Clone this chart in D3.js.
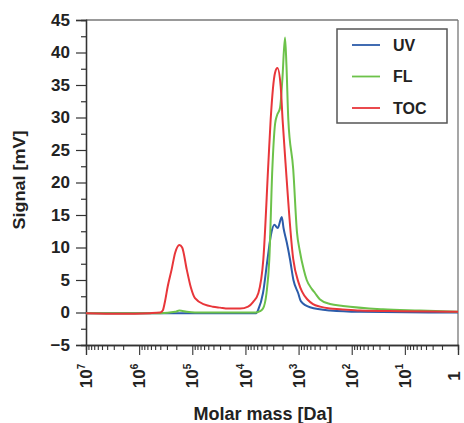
<!DOCTYPE html>
<html>
<head>
<meta charset="utf-8">
<script src="https://cdn.jsdelivr.net/npm/d3@7/dist/d3.min.js"></script>
<style>
  html, body { margin: 0; padding: 0; background: #fff; }
  svg { display: block; }
  text { font-family: "Liberation Sans", Arial, sans-serif; font-weight: bold; fill: #222; }
</style>
</head>
<body>
<svg id="chart" width="464" height="423"></svg>
<script>
// ---- data ----
const seriesNames = ["UV", "FL", "TOC"];
const seriesColors = ["#2c5caa", "#6cc24a", "#e8363a"];

const uvMass   = [1e7, 6.3e3, 5.7e3, 4.67e3, 3.84e3, 3.3e3, 2.86e3, 2.47e3, 2.07e3, 1.92e3, 1.67e3, 1.45e3, 1.25e3, 1.02e3, 900, 610, 256, 70, 1];
const uvSignal = [-0.1, -0.1, 0.5, 3, 8.2, 12, 13.5, 13.0, 14.7, 13, 10.8, 8.2, 5, 3, 1.7, 0.8, 0.3, 0.1, 0];

const flMass   = [1e7, 4e5, 2.1e5, 1.75e5, 1.27e5, 8.9e4, 6.3e3, 5.32e3, 4.67e3, 4.01e3, 3.55e3, 3.12e3, 2.77e3, 2.55e3, 2.23e3, 2.02e3, 1.8e3, 1.69e3, 1.56e3, 1.26e3, 1.07e3, 950, 800, 703, 560, 491, 395, 256, 146, 25.8, 5.2, 1];
const flSignal = [-0.1, -0.1, 0.1, 0.3, 0.1, 0, 0, 0.2, 0.6, 3, 8.2, 22, 29, 30.3, 31.5, 35.8, 42.3, 38, 29.7, 22, 12.3, 9.5, 6.6, 5, 3.6, 3, 2, 1.3, 1.0, 0.5, 0.3, 0.1];

const tocMass   = [1e7, 2.3e6, 6.2e5, 4.0e5, 3.6e5, 3.3e5, 2.9e5, 2.45e5, 2.1e5, 1.75e5, 1.55e5, 1.27e5, 1.06e5, 8.9e4, 5.8e4, 4.1e4, 3.0e4, 2.1e4, 1.26e4, 8.9e3, 7.2e3, 5.7e3, 4.6e3, 3.7e3, 3.35e3, 2.77e3, 2.5e3, 2.17e3, 2.0e3, 1.76e3, 1.26e3, 1.0e3, 860, 680, 535, 395, 256, 166, 70, 12, 1];
const tocSignal = [-0.1, -0.2, -0.1, 0, 0.3, 1.5, 4.0, 6.6, 9.2, 10.4, 10.0, 6.6, 3.8, 2.2, 1.2, 0.9, 0.75, 0.6, 0.6, 0.9, 1.6, 3.0, 8.2, 23, 29.7, 36.9, 37.6, 34.8, 29.7, 23, 8.2, 4.6, 3.2, 2.0, 1.3, 0.9, 0.6, 0.5, 0.3, 0.2, 0.1];

const yTicks = [-5, 0, 5, 10, 15, 20, 25, 30, 35, 40, 45];
const xTickExponents = [7, 6, 5, 4, 3, 2, 1, 0];
const yTitle = "Signal [mV]";
const xTitle = "Molar mass [Da]";

// ---- layout ----
const L = 86, R = 458, T = 20, B = 345;
const svg = d3.select("#chart");

const x = d3.scaleLog().domain([1e7, 1]).range([L, R]);
const y = d3.scaleLinear().domain([-5, 45]).range([B, T]);

// frame (top / right)
svg.append("line").attr("x1", L).attr("x2", R).attr("y1", T).attr("y2", T)
  .attr("stroke", "#777").attr("stroke-width", 1.3);
svg.append("line").attr("x1", R).attr("x2", R).attr("y1", T).attr("y2", B)
  .attr("stroke", "#777").attr("stroke-width", 1.3);

// y axis
const yMinor = d3.range(-2.5, 45, 5);
const gyMinor = svg.append("g").attr("transform", `translate(${L},0)`)
  .call(d3.axisLeft(y).tickValues(yMinor).tickSize(5).tickFormat(""));
const gy = svg.append("g").attr("transform", `translate(${L},0)`)
  .call(d3.axisLeft(y).tickValues(yTicks).tickSize(10).tickPadding(6).tickFormat(d3.format("d")));
[gy, gyMinor].forEach(g => {
  g.select(".domain").attr("stroke", "#333").attr("stroke-width", 1.3);
  g.selectAll(".tick line").attr("stroke", "#333").attr("stroke-width", 1.2);
});
gy.selectAll(".tick text").attr("font-size", 17).attr("font-family", "Liberation Sans, Arial, sans-serif")
  .attr("font-weight", "bold").attr("fill", "#222");

// x axis
const decades = xTickExponents.map(e => Math.pow(10, e));
const xMinor = [];
xTickExponents.slice(0, -1).forEach(e => {
  for (let k = 2; k <= 9; k++) xMinor.push(k * Math.pow(10, e - 1));
});
const gxMinor = svg.append("g").attr("transform", `translate(0,${B})`)
  .call(d3.axisBottom(x).tickValues(xMinor).tickSize(5).tickFormat(""));
const gx = svg.append("g").attr("transform", `translate(0,${B})`)
  .call(d3.axisBottom(x).tickValues(decades).tickSize(10).tickFormat(""));
[gx, gxMinor].forEach(g => {
  g.select(".domain").attr("stroke", "#333").attr("stroke-width", 1.3);
  g.selectAll(".tick line").attr("stroke", "#333").attr("stroke-width", 1.1);
});

// rotated x tick labels
xTickExponents.forEach(e => {
  const px = Math.min(x(Math.pow(10, e)), 454);
  const t = svg.append("text")
    .attr("transform", `translate(${px},376) rotate(-90)`)
    .attr("text-anchor", "middle").attr("dy", "0.36em")
    .attr("font-size", 17);
  if (e === 0) {
    t.text("1");
  } else {
    t.append("tspan").text("10");
    t.append("tspan").attr("font-size", 10).attr("dy", "-0.75em").text(e);
  }
});

// axis titles
svg.append("text")
  .attr("transform", `translate(25,180) rotate(-90)`)
  .attr("text-anchor", "middle").attr("font-size", 16)
  .attr("textLength", 99).attr("lengthAdjust", "spacingAndGlyphs")
  .text(yTitle);
svg.append("text").attr("x", 263).attr("y", 420)
  .attr("text-anchor", "middle").attr("font-size", 18).text(xTitle);

// series
const series = [
  { name: seriesNames[0], color: seriesColors[0], mass: uvMass, signal: uvSignal },
  { name: seriesNames[1], color: seriesColors[1], mass: flMass, signal: flSignal },
  { name: seriesNames[2], color: seriesColors[2], mass: tocMass, signal: tocSignal }
];
const line = d3.line().x(d => x(d[0])).y(d => y(d[1])).curve(d3.curveMonotoneX);
series.forEach(s => {
  const pts = s.mass.map((m, i) => [m, s.signal[i]]);
  svg.append("path").datum(pts).attr("d", line)
    .attr("fill", "none").attr("stroke", s.color).attr("stroke-width", 2)
    .attr("stroke-linejoin", "round");
});

// legend
const lg = svg.append("g");
lg.append("rect").attr("x", 337).attr("y", 29).attr("width", 110).attr("height", 94)
  .attr("fill", "#fff").attr("stroke", "#555").attr("stroke-width", 1.5);
series.forEach((s, i) => {
  const yy = 45 + i * 31.5;
  lg.append("line").attr("x1", 352).attr("x2", 380).attr("y1", yy).attr("y2", yy)
    .attr("stroke", s.color).attr("stroke-width", 1.8);
  lg.append("text").attr("x", 393).attr("y", yy).attr("dy", "0.36em")
    .attr("font-size", 16).text(s.name);
});
</script>
</body>
</html>
